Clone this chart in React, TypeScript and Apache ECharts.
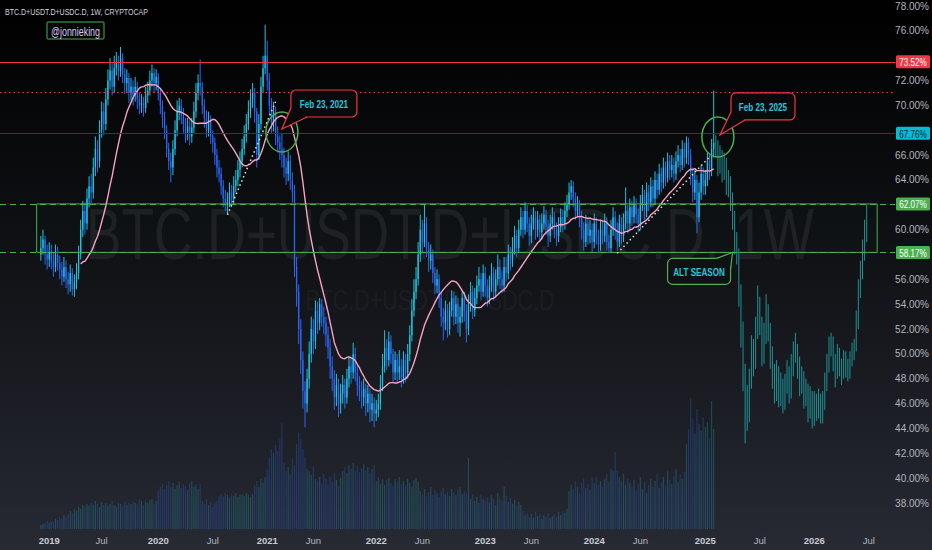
import React, { useRef, useEffect } from 'react'
import * as echarts from 'echarts'

const FONT = "'Liberation Sans', Arial, sans-serif"
const SQUEEZE = 0.74
const GRID_RIGHT = 37

// weekly category axis
const firstWeek = '2018-07-30'
const weekCount = 427
const dataStart = '2018-12-10'
const projStart = '2025-02-10'

const xTickDates = ['2019-01-07', '2019-07-01', '2020-01-06', '2020-07-06', '2021-01-04', '2021-06-07', '2022-01-03', '2022-06-06', '2023-01-02', '2023-06-05', '2024-01-01', '2024-06-03', '2025-01-06', '2025-07-07', '2026-01-05', '2026-07-06']
const xTickNames = ['2019', 'Jul', '2020', 'Jul', '2021', 'Jun', '2022', 'Jun', '2023', 'Jun', '2024', 'Jun', '2025', 'Jul', '2026', 'Jul']

const yMin = 38
const yMax = 78
const yStep = 2

// weekly bars [close, high, low], open = previous close
const firstOpen = 58.0
const bars2018 = [[58.5, 59.5, 57.5], [59.2, 60.0, 58.0], [58.0, 59.5, 57.2], [57.6, 58.8, 56.8]]
const bars2019 = [
  [58.2, 59.0, 57.0], [57.5, 58.8, 56.8], [57.0, 58.2, 56.2], [58.0, 58.8, 56.6], [57.3, 58.6, 56.7], [56.8, 57.9, 56.0], [56.2, 57.4, 55.5], [57.0, 57.8, 55.8], [56.0, 57.5, 55.3], [55.6, 56.6, 54.8], [56.5, 57.2, 55.0], [55.2, 56.9, 54.7], [55.8, 56.4, 54.6],
  [56.5, 57.3, 55.2], [58.0, 58.7, 56.0], [60.0, 60.8, 57.6], [61.5, 62.3, 59.4], [60.5, 62.2, 59.6], [62.5, 63.3, 60.0], [63.5, 64.3, 61.8], [63.0, 64.5, 62.0],
  [65.0, 65.8, 62.5], [66.5, 67.5, 64.3], [65.5, 67.2, 64.6], [68.0, 68.8, 65.0], [69.5, 70.3, 67.4], [68.5, 70.2, 67.6], [70.5, 71.4, 68.0],
  [72.0, 72.9, 70.0], [72.8, 73.8, 71.3], [71.5, 73.4, 70.8], [73.0, 74.0, 71.0], [73.5, 74.3, 72.4], [72.8, 74.0, 72.0], [73.8, 74.7, 72.3],
  [72.5, 74.2, 71.8], [71.8, 73.0, 70.9], [72.2, 72.9, 71.0], [71.0, 72.6, 70.2], [71.5, 72.2, 70.4], [70.8, 72.0, 70.0], [71.5, 72.3, 70.3], [70.5, 71.9, 69.7], [70.0, 71.0, 69.3],
  [70.2, 70.9, 69.4], [69.8, 70.7, 69.1], [70.8, 71.5, 69.4], [71.2, 71.9, 70.2],
  [72.0, 72.8, 70.8], [72.6, 73.3, 71.5], [71.8, 73.0, 71.0], [72.3, 72.9, 71.2],
]
const bars2020 = [
  [71.0, 72.6, 70.4], [70.0, 71.4, 69.3], [69.0, 70.4, 68.2], [68.0, 69.5, 67.3], [66.5, 68.4, 65.8], [65.5, 67.0, 64.8], [65.0, 66.2, 63.8],
  [66.5, 67.2, 64.4], [68.0, 68.8, 66.0], [69.5, 70.4, 67.5], [70.0, 70.6, 68.8], [69.2, 70.5, 68.5], [68.5, 69.8, 67.8],
  [67.8, 69.0, 67.0], [68.3, 69.0, 67.2], [67.5, 68.8, 66.8], [68.2, 69.0, 67.0],
  [69.5, 70.3, 67.8], [71.0, 71.8, 69.0], [71.8, 72.5, 70.4], [71.5, 73.7, 70.8],
  [70.0, 71.9, 69.3], [69.0, 70.5, 68.2], [68.0, 69.6, 67.4], [68.8, 69.5, 67.5], [67.5, 69.2, 66.9], [67.0, 68.0, 66.2],
  [66.0, 67.4, 65.2], [65.0, 66.5, 64.2], [64.5, 65.6, 63.8], [63.5, 65.0, 62.8], [62.5, 64.0, 61.8], [62.0, 63.2, 61.5], [62.2, 63.0, 61.3],
  [63.0, 63.8, 61.8], [62.5, 63.6, 61.8], [63.5, 64.3, 62.0], [64.0, 64.8, 63.0], [64.8, 65.6, 63.5], [65.5, 66.3, 64.2], [66.5, 67.3, 65.0], [67.5, 68.4, 66.0], [68.5, 69.3, 67.0], [69.5, 70.4, 68.0],
  [70.5, 71.3, 69.0], [71.0, 71.8, 69.8], [69.5, 71.4, 68.6],
  [66.0, 69.8, 65.0],
  [68.5, 69.3, 65.6], [71.5, 72.3, 68.0], [73.0, 74.0, 71.0], [74.0, 76.5, 72.5],
]
const bars2021 = [
  [72.0, 75.2, 71.2], [70.0, 72.6, 69.2], [68.5, 70.6, 67.8], [69.5, 70.3, 67.9], [67.5, 69.9, 66.8], [67.0, 68.3, 66.2], [66.5, 67.6, 65.6],
  [66.0, 67.8, 65.0], [65.0, 66.6, 64.2], [64.5, 65.8, 63.6], [65.5, 66.3, 63.9], [64.0, 66.0, 63.2], [63.0, 64.6, 62.2],
  [57.0, 63.6, 56.2],
  [55.0, 57.8, 53.8], [52.0, 55.6, 50.8], [49.5, 52.8, 48.4], [47.0, 50.2, 45.6], [46.0, 47.8, 44.1], [48.0, 48.8, 45.3], [50.0, 51.0, 47.2],
  [52.0, 53.0, 49.3], [51.0, 52.8, 50.0], [53.5, 54.3, 50.4], [52.5, 54.2, 51.6], [54.0, 54.5, 51.9], [53.0, 54.4, 52.2], [52.5, 53.8, 51.6], [51.5, 53.0, 50.6],
  [50.5, 52.2, 49.6], [49.0, 51.2, 48.0], [48.0, 49.8, 47.0], [46.5, 48.7, 45.5], [47.5, 48.4, 45.8], [46.0, 48.0, 44.9],
  [46.8, 47.6, 45.2], [47.5, 48.3, 46.0], [46.5, 48.0, 45.6], [48.0, 48.8, 46.0], [49.0, 49.8, 47.3], [48.5, 49.7, 47.6], [50.0, 50.9, 48.0],
  [48.5, 50.5, 47.8], [47.5, 49.2, 46.6], [47.0, 48.2, 46.2], [46.5, 47.8, 45.6], [47.2, 48.0, 45.8], [46.0, 47.6, 45.0], [46.8, 47.5, 45.3], [45.5, 47.2, 44.5], [46.0, 46.8, 44.6], [45.2, 46.5, 44.1],
]
const bars2022 = [
  [45.5, 46.3, 44.6], [46.0, 46.8, 44.9], [47.5, 48.3, 45.5], [49.0, 50.0, 47.0],
  [50.5, 51.9, 48.5], [49.5, 51.2, 48.7], [51.0, 51.8, 49.0], [50.0, 51.5, 49.2], [48.5, 50.4, 47.7], [49.5, 50.2, 47.9], [48.5, 50.0, 47.7],
  [49.0, 50.3, 47.9], [48.0, 49.6, 47.3], [49.5, 50.2, 47.6], [48.5, 50.0, 47.7],
  [50.0, 50.8, 48.0], [51.5, 52.3, 49.4], [53.5, 54.4, 51.0], [55.0, 56.0, 53.0], [56.0, 57.0, 54.4],
  [58.0, 59.0, 55.5], [60.0, 61.2, 57.4], [59.0, 60.8, 58.2], [60.5, 62.0, 58.6], [58.5, 61.0, 57.8],
  [57.5, 59.0, 56.6], [58.0, 58.8, 56.8], [56.5, 58.4, 55.7], [55.5, 57.0, 54.8], [56.0, 56.8, 54.9],
  [54.5, 56.4, 53.7], [53.0, 55.0, 52.2], [52.5, 53.7, 51.1], [53.5, 54.3, 51.9], [52.0, 54.0, 51.3],
  [53.5, 54.2, 51.5], [54.5, 55.1, 53.0], [53.0, 55.0, 52.3], [54.0, 54.7, 52.4], [52.5, 54.5, 51.7], [53.0, 53.8, 51.4],
  [54.5, 55.1, 52.5], [53.5, 55.0, 52.6], [52.0, 54.0, 50.9], [54.0, 54.8, 51.5], [55.0, 55.8, 53.4], [53.5, 55.5, 52.8],
  [54.5, 55.3, 53.0], [55.5, 56.3, 54.0], [56.0, 57.0, 55.0], [55.0, 56.5, 54.3], [56.5, 57.2, 54.6],
]
const bars2023 = [
  [55.5, 57.0, 54.6], [54.5, 56.0, 53.8], [55.5, 56.3, 54.0], [56.5, 57.3, 55.0], [55.0, 57.0, 54.3], [56.0, 56.8, 54.5], [57.0, 58.0, 55.5], [56.0, 57.6, 55.2],
  [55.5, 56.7, 54.9], [57.0, 57.8, 55.0], [56.5, 57.8, 55.8], [58.0, 58.8, 56.0],
  [57.5, 58.6, 56.7], [58.5, 59.4, 57.0], [59.5, 60.3, 58.0], [58.5, 60.0, 57.8],
  [60.0, 60.8, 58.1], [61.0, 61.8, 59.5], [60.0, 61.5, 59.3], [61.5, 62.2, 59.6], [60.5, 62.0, 59.8], [59.5, 61.0, 58.7], [60.5, 61.2, 58.9], [61.0, 61.8, 60.0],
  [60.0, 61.5, 59.2], [60.8, 61.5, 59.4], [59.8, 61.2, 59.0], [60.5, 61.3, 59.2], [61.2, 61.9, 60.0], [60.3, 61.6, 59.6], [59.5, 60.8, 58.6], [60.5, 61.2, 59.0],
  [61.0, 61.8, 60.0], [60.0, 61.4, 59.3], [59.5, 60.6, 58.7], [60.2, 61.0, 59.0], [61.0, 61.7, 59.8], [60.5, 61.6, 59.8], [61.5, 62.2, 60.0], [62.0, 62.8, 61.0],
  [63.0, 63.8, 61.6], [63.5, 64.0, 62.4], [62.5, 63.9, 61.8], [61.5, 63.0, 60.8], [62.0, 62.7, 61.0], [61.0, 62.4, 60.2],
  [60.0, 61.5, 59.2], [59.0, 60.6, 58.3], [60.5, 61.2, 58.6], [59.5, 61.0, 58.8], [60.0, 60.8, 58.9], [59.0, 60.5, 58.2],
]
const bars2024 = [
  [60.5, 61.3, 58.5], [59.5, 61.0, 58.8], [58.8, 60.0, 58.1], [60.0, 60.8, 58.3], [59.5, 60.7, 58.8],
  [60.5, 61.3, 59.0], [59.0, 61.0, 58.3], [58.5, 59.6, 58.1], [60.0, 60.8, 58.2], [61.0, 61.8, 59.5], [60.0, 61.5, 59.2], [59.0, 60.6, 58.3], [60.5, 61.2, 58.6], [59.5, 61.0, 58.8], [60.5, 61.3, 59.0],
  [61.5, 63.4, 60.0], [60.5, 62.0, 59.7], [61.8, 62.5, 60.0], [61.0, 62.3, 60.3], [62.0, 62.7, 60.5], [61.2, 62.5, 60.5], [60.5, 61.7, 59.8], [62.0, 62.8, 60.0],
  [62.8, 63.6, 61.5], [61.5, 63.2, 60.8], [63.0, 63.8, 61.0], [62.2, 63.6, 61.5], [63.5, 64.2, 61.8], [62.5, 64.0, 61.8], [64.0, 64.7, 62.0], [63.2, 64.5, 62.5],
  [64.5, 65.3, 62.8], [63.8, 65.0, 63.0], [65.0, 65.8, 63.3], [64.2, 65.5, 63.5], [65.5, 66.2, 63.8], [64.8, 66.0, 64.0], [65.2, 66.0, 64.2], [64.5, 65.8, 63.8],
  [65.5, 66.3, 64.0], [66.0, 66.8, 65.0], [65.2, 66.5, 64.6], [66.5, 67.2, 64.8], [65.8, 67.0, 65.0], [67.0, 67.5, 65.3],
  [66.0, 67.4, 65.2], [64.5, 66.5, 63.6], [63.0, 65.0, 62.2], [64.0, 64.8, 62.4], [61.0, 64.4, 59.7],
  [63.0, 63.8, 60.6], [64.5, 65.2, 62.4], [63.5, 65.0, 62.8],
]
const bars2025 = [[64.0, 64.8, 62.8], [65.5, 66.2, 63.5], [64.8, 66.0, 64.0], [66.5, 67.3, 64.3], [67.0, 71.2, 65.8]]

// projected bars pattern (drawn after the last real week)
const projection = [
  [66.5, 67.6, 65.8], [65.0, 67.2, 64.3], [66.0, 66.8, 64.5], [64.5, 66.4, 63.8], [65.5, 66.2, 64.0], [63.5, 65.8, 62.8], [64.0, 64.8, 62.6],
  [62.5, 64.3, 61.5], [61.0, 63.0, 60.0], [59.0, 61.5, 58.0], [58.0, 59.8, 57.2],
  [55.0, 58.5, 53.8], [52.0, 55.6, 50.5], [48.5, 52.6, 47.0], [46.0, 49.2, 42.8], [45.0, 47.5, 43.8],
  [48.0, 48.8, 44.5], [50.5, 51.5, 47.2], [49.5, 51.2, 48.2], [52.0, 53.0, 48.8], [54.0, 55.5, 51.2], [52.5, 54.6, 51.5], [50.0, 53.0, 49.0], [51.5, 52.5, 49.2], [53.5, 54.8, 50.8], [52.0, 54.0, 51.0], [50.0, 52.5, 48.8],
  [48.5, 50.6, 47.2], [47.0, 49.2, 46.0], [48.5, 49.5, 46.2], [46.5, 49.0, 45.7], [47.5, 48.5, 45.8], [46.0, 48.0, 45.2], [47.5, 48.4, 45.5],
  [48.5, 49.5, 46.8], [47.0, 49.0, 46.0], [49.0, 50.0, 46.4], [50.0, 51.0, 48.2], [50.5, 51.7, 49.3],
  [49.0, 50.8, 48.0], [47.5, 49.8, 46.6], [48.0, 49.0, 46.8], [46.5, 48.6, 45.6], [47.0, 48.0, 45.8], [45.5, 47.6, 44.5], [46.5, 47.4, 44.8], [45.0, 47.0, 44.0], [46.0, 47.0, 44.2], [45.5, 46.8, 44.6], [46.2, 47.2, 44.8],
  [45.0, 46.8, 44.4], [46.0, 47.0, 44.4], [47.5, 48.5, 45.5],
  [49.0, 50.0, 47.0], [50.5, 51.4, 48.5], [51.0, 51.7, 49.8], [49.5, 51.4, 48.6], [48.5, 50.0, 47.3], [50.0, 50.8, 48.0], [49.0, 50.5, 48.2], [48.5, 49.6, 47.5], [49.5, 50.3, 48.0],
  [49.0, 50.2, 48.1], [48.5, 49.6, 47.8], [49.5, 50.2, 48.0], [50.0, 50.9, 49.0], [50.5, 51.2, 49.5],
  [52.5, 53.5, 50.2], [55.0, 56.0, 52.0], [56.5, 57.5, 54.5], [58.0, 59.2, 56.0], [59.5, 60.8, 57.5], [61.0, 62.0, 59.0],
]

// volume (relative units)
const vol2018 = [4, 5, 6, 8]
const vol2019 = [6, 8, 7, 10, 9, 12, 10, 14, 12, 15, 18, 16, 20, 18, 22, 20, 24, 22, 25, 23, 26, 24, 28, 25, 22, 27, 24, 26, 23, 25, 28, 24, 22, 26, 25, 23, 27, 24, 26, 25, 27, 26, 25, 30, 28, 24, 27, 26, 29, 30, 25, 28]
const vol2020 = [38, 42, 45, 40, 44, 48, 42, 46, 40, 44, 47, 41, 45, 43, 39, 46, 48, 42, 44, 40, 45, 28, 25, 30, 24, 27, 22, 26, 28, 33, 35, 32, 36, 34, 31, 35, 33, 36, 32, 34, 35, 33, 36, 34, 32, 35, 44, 48, 42, 50, 46, 52]
const vol2021 = [60, 72, 80, 76, 84, 78, 90, 106, 66, 58, 62, 55, 70, 64, 85, 96, 90, 80, 72, 60, 58, 54, 62, 50, 48, 52, 45, 55, 50, 44, 52, 47, 56, 49, 43, 51, 58, 62, 56, 64, 60, 66, 58, 63, 57, 61, 65, 59, 62, 56, 60, 64]
const vol2022 = [48, 52, 45, 50, 44, 49, 51, 46, 43, 50, 47, 52, 45, 48, 44, 50, 46, 42, 49, 51, 47, 38, 35, 40, 33, 37, 42, 34, 39, 36, 32, 38, 41, 35, 37, 33, 40, 36, 34, 39, 42, 35, 38, 36, 71, 30, 34, 28, 32, 26, 35, 30]
const vol2023 = [28, 32, 26, 34, 30, 24, 36, 30, 28, 42, 33, 27, 31, 25, 29, 23, 27, 24, 18, 14, 16, 12, 15, 11, 17, 13, 15, 10, 14, 12, 16, 11, 13, 15, 12, 17, 14, 18, 16, 20, 38, 44, 40, 48, 42, 36, 46, 50, 41, 45, 39, 52]
const vol2024 = [46, 52, 44, 48, 42, 50, 55, 47, 60, 58, 77, 58, 52, 48, 55, 44, 50, 46, 42, 49, 38, 45, 52, 40, 47, 36, 44, 50, 42, 48, 55, 41, 46, 52, 44, 58, 49, 45, 53, 60, 47, 55, 50, 57, 85, 100, 131, 110, 95, 120, 105, 98, 112]
const vol2025 = [102, 107, 90, 128, 100]

// drawings
const levelRed = 73.52
const levelRedDots = 71.1
const levelCyan = 67.76
const boxTop = 62.07
const boxBottom = 58.17
const boxFrom = 16.7
const boxTo = 417.9
const trend2021 = [['2020-08-24', 61.2], ['2021-02-01', 70.3]]
const trend2025 = [['2024-03-18', 58.1], ['2025-01-20', 65.85]]
const ring2021 = ['2021-02-22', 67.86]
const ring2025 = ['2025-02-17', 67.46]
const tip2021 = ['2021-02-22', 68.1]
const tip2025 = ['2025-02-24', 67.62]
const tipAlt = ['2025-04-07', 58.17]
const maLength = 20

const UP = '#22c3dc'
const DOWN = '#2d66f2'
const TEAL = '#1d9396'
const RED = '#f23645'
const GREEN = '#4caf50'
const CYAN = '#00bcd4'
const DIM = '#21443a'
const LABEL = '#b2b5be'

const WEEK = 7 * 24 * 3600 * 1000

function sText(x: number, y: number, text: string, size: number, fill: string, extra: any = {}) {
  return {
    type: 'text', x, y, scaleX: SQUEEZE, z: extra.z ?? 120,
    style: { text, fill, fontSize: size, fontFamily: FONT, fontWeight: extra.weight || 'normal', align: extra.align || 'left', verticalAlign: 'middle' },
  }
}

function callout(tip: number[], dx: number, dy: number, w: number, h: number, base: number[][], text: string, stroke: string, fill: string) {
  const bx = tip[0] + dx
  const by = tip[1] + dy
  const a = [bx + base[0][0], by + base[0][1]]
  const b = [bx + base[1][0], by + base[1][1]]
  return [
    { type: 'rect', z: 110, shape: { x: bx, y: by, width: w, height: h, r: 5 }, style: { fill, stroke, lineWidth: 1.2 } },
    { type: 'polygon', z: 111, shape: { points: [a, tip, b] }, style: { fill } },
    { type: 'polyline', z: 112, shape: { points: [a, tip, b] }, style: { stroke, lineWidth: 1.2, fill: 'none' } },
    sText(bx + w / 2, by + h / 2 + 0.5, text, 11, '#26c6da', { align: 'center', weight: 'bold', z: 113 }),
  ]
}

function App() {
  const chartRef = useRef(null)

  useEffect(() => {
    document.body.style.margin = '0'
    const chart = echarts.init(chartRef.current, null, { renderer: 'svg' })

    const t0 = new Date(firstWeek + 'T00:00:00Z').getTime()
    const categories = Array.from({ length: weekCount }, (_, i) => new Date(t0 + i * WEEK).toISOString().slice(0, 10))
    const tickName: Record<string, string> = {}
    xTickDates.forEach((d, i) => { tickName[d] = xTickNames[i] })

    const bars = [...bars2018, ...bars2019, ...bars2020, ...bars2021, ...bars2022, ...bars2023, ...bars2024, ...bars2025]
    const vols = [...vol2018, ...vol2019, ...vol2020, ...vol2021, ...vol2022, ...vol2023, ...vol2024, ...vol2025]
    const s0 = categories.indexOf(dataStart)
    const p0 = categories.indexOf(projStart)

    // [index, open, close, low, high]
    const candleData: number[][] = []
    const projData: number[][] = []
    const volData: any[] = categories.map(() => '-')
    const maData: any[] = categories.map(() => '-')

    bars.forEach(([c, h, l], k) => {
      const o = k > 0 ? bars[k - 1][0] : firstOpen
      candleData.push([s0 + k, o, c, Math.min(l, o, c), Math.max(h, o, c)])
      volData[s0 + k] = {
        value: vols[k],
        itemStyle: { color: c >= o ? 'rgba(34,195,220,0.26)' : 'rgba(45,102,242,0.3)' },
      }
      if (k >= maLength - 1) {
        let sum = 0
        for (let j = k - maLength + 1; j <= k; j++) sum += bars[j][0]
        maData[s0 + k] = +(sum / maLength).toFixed(3)
      }
    })
    projection.forEach(([c, h, l], k) => {
      const o = k > 0 ? projection[k - 1][0] : bars[bars.length - 1][0]
      projData.push([p0 + k, o, c, Math.min(l, o, c), Math.max(h, o, c)])
    })

    const candleItem = (bodyRatio: number, up: string, down: string) => (params: any, api: any) => {
      const i = api.value(0)
      const o = api.value(1)
      const c = api.value(2)
      const lo = api.coord([i, api.value(3)])
      const hi = api.coord([i, api.value(4)])
      const po = api.coord([i, o])
      const pc = api.coord([i, c])
      const color = c >= o ? up : down
      const children: any[] = [
        { type: 'line', shape: { x1: hi[0], y1: hi[1], x2: lo[0], y2: lo[1] }, style: { stroke: color, lineWidth: 1 } },
      ]
      if (bodyRatio > 0) {
        const w = api.size([1, 0])[0] * bodyRatio
        children.push({
          type: 'rect',
          shape: { x: hi[0] - w / 2, y: Math.min(po[1], pc[1]), width: w, height: Math.max(Math.abs(po[1] - pc[1]), 1) },
          style: { fill: color },
        })
      }
      return { type: 'group', children }
    }

    const hideNear = [levelRed, levelCyan, boxTop, boxBottom]

    const option = {
      animation: false,
      backgroundColor: 'transparent',
      textStyle: { fontFamily: FONT },
      grid: [
        { left: 0, right: GRID_RIGHT, top: 6, bottom: 47 },
        { left: 0, right: GRID_RIGHT, top: 380, bottom: 21 },
      ],
      xAxis: [
        { type: 'category', gridIndex: 0, data: categories, boundaryGap: true, show: false },
        {
          type: 'category', gridIndex: 1, data: categories, boundaryGap: true,
          axisLine: { show: false }, axisTick: { show: false }, splitLine: { show: false },
          axisLabel: {
            margin: 6,
            fontSize: 10,
            color: LABEL,
            interval: (_i: number, v: string) => tickName[v] !== undefined,
            formatter: (v: string) => {
              const n = tickName[v] || ''
              return /^\d+$/.test(n) ? '{y|' + n + '}' : '{m|' + n + '}'
            },
            rich: {
              y: { fontSize: 9.5, fontWeight: 'bold', color: '#c8cbd3', fontFamily: FONT },
              m: { fontSize: 9.5, color: LABEL, fontFamily: FONT },
            },
          },
        },
      ],
      yAxis: [
        {
          type: 'value', gridIndex: 0, position: 'right', min: yMin, max: yMax, interval: yStep,
          axisLine: { show: false }, axisTick: { show: false }, splitLine: { show: false },
          axisLabel: {
            align: 'right', margin: 34, color: LABEL, fontSize: 10,
            // labels covered by the price badges are left blank, as in the picture
            formatter: (v: number) => (hideNear.some((h) => Math.abs(h - v) < 0.6) ? '' : v.toFixed(2) + '%'),
          },
        },
        { type: 'value', gridIndex: 1, min: 0, max: 149, show: false },
      ],
      series: [
        {
          type: 'bar', name: 'volume', xAxisIndex: 1, yAxisIndex: 1, data: volData, barWidth: '55%', silent: true, z: 1,
        },
        {
          type: 'custom', name: 'BTC.D+USDT.D+USDC.D', xAxisIndex: 0, yAxisIndex: 0, data: candleData,
          encode: { x: 0, y: [1, 2, 3, 4] }, renderItem: candleItem(0.62, UP, DOWN), silent: true, z: 3,
        },
        {
          type: 'custom', name: 'projection', xAxisIndex: 0, yAxisIndex: 0, data: projData,
          encode: { x: 0, y: [1, 2, 3, 4] }, renderItem: candleItem(0, TEAL, TEAL), silent: true, z: 3,
        },
        {
          type: 'line', name: 'MA', xAxisIndex: 0, yAxisIndex: 0, data: maData, showSymbol: false, silent: true, z: 5,
          lineStyle: { color: '#f6a3c3', width: 1.4 },
          markArea: {
            silent: true,
            itemStyle: { color: 'rgba(76,175,80,0.02)', borderColor: GREEN, borderWidth: 1 },
            data: [[{ coord: [boxFrom, boxTop] }, { coord: [boxTo, boxBottom] }]],
          },
          markLine: {
            silent: true,
            symbol: ['none', 'none'],
            label: { show: false },
            lineStyle: { color: '#e6e6e6', width: 1.5, type: [1.5, 3] },
            data: [
              [{ coord: trend2021[0] }, { coord: trend2021[1] }],
              [{ coord: trend2025[0] }, { coord: trend2025[1] }],
            ],
          },
        },
      ],
    }

    chart.setOption(option)

    const px = (p: any[]) => chart.convertToPixel({ seriesIndex: 3 }, p) as number[]
    const r21 = px(ring2021)
    const r25 = px(ring2025)
    const t21 = px(tip2021)
    const t25 = px(tip2025)
    const tAlt = px(tipAlt)
    const right = chart.getWidth() - GRID_RIGHT

    const level = (value: number, stroke: string, dash: number[] | null) => {
      const y = Math.round(px([0, value])[1]) + 0.5
      return {
        type: 'line', z: 50, shape: { x1: 0, y1: y, x2: right, y2: y },
        style: { stroke, lineWidth: 1, lineDash: dash || undefined },
      }
    }

    const badge = (value: number, bg: string, fg: string) => {
      const y = px([0, value])[1]
      return [
        { type: 'rect', z: 130, shape: { x: 896, y: y - 6.5, width: 34, height: 13, r: 1.5 }, style: { fill: bg } },
        sText(913, y + 0.5, value.toFixed(2) + '%', 11, fg, { align: 'center', z: 131 }),
      ]
    }

    const graphic: any[] = [
      sText(450, 234, 'BTC.D+USDT.D+USDC.D, 1W', 72, 'rgba(255,255,255,0.065)', { align: 'center', z: -10 }),
      sText(430, 300, 'BTC.D+USDT.D+USDC.D', 29, 'rgba(255,255,255,0.055)', { align: 'center', z: -10 }),
      sText(5, 12, 'BTC.D+USDT.D+USDC.D, 1W, CRYPTOCAP', 9.5, '#d1d4dc'),
      { type: 'rect', z: 120, shape: { x: 47, y: 22, width: 57, height: 17, r: 1 }, style: { fill: '#050505', stroke: GREEN, lineWidth: 1 } },
      sText(75.5, 31, '@jonnieking', 12, '#d3c6f3', { align: 'center', z: 121 }),
      level(levelRed, RED, null),
      level(levelRedDots, RED, [1.5, 3]),
      level(levelCyan, DIM, null),
      level(boxTop, GREEN, [6, 4]),
      level(boxBottom, GREEN, [6, 4]),
      { type: 'ellipse', z: 105, shape: { cx: r21[0], cy: r21[1], rx: 16, ry: 20 }, style: { fill: 'none', stroke: GREEN, lineWidth: 1.5 } },
      { type: 'ellipse', z: 105, shape: { cx: r25[0], cy: r25[1], rx: 16, ry: 20 }, style: { fill: 'none', stroke: GREEN, lineWidth: 1.5 } },
      ...callout(t21, 9, -39, 66, 27, [[0, 18], [16, 27]], 'Feb 23, 2021', RED, '#0a0a0c'),
      ...callout(t25, 11, -42, 64, 27, [[0, 19], [14, 27]], 'Feb 23, 2025', RED, '#0a0a0c'),
      ...callout(tAlt, -65, 6, 63, 26, [[49, 0], [63, 11]], 'ALT SEASON', GREEN, '#101114'),
      ...badge(levelRed, RED, '#ffffff'),
      ...badge(levelCyan, CYAN, '#0e1a24'),
      ...badge(boxTop, GREEN, '#ffffff'),
      ...badge(boxBottom, GREEN, '#ffffff'),
    ]
    chart.setOption({ graphic })

    return () => {
      chart.dispose()
    }
  }, [])

  return (
    <div
      ref={chartRef}
      style={{ width: 932, height: 550, background: 'linear-gradient(180deg, #000000 0%, #0e0f12 40%, #1c1e25 75%, #272a33 100%)' }}
    ></div>
  )
}

export default App
